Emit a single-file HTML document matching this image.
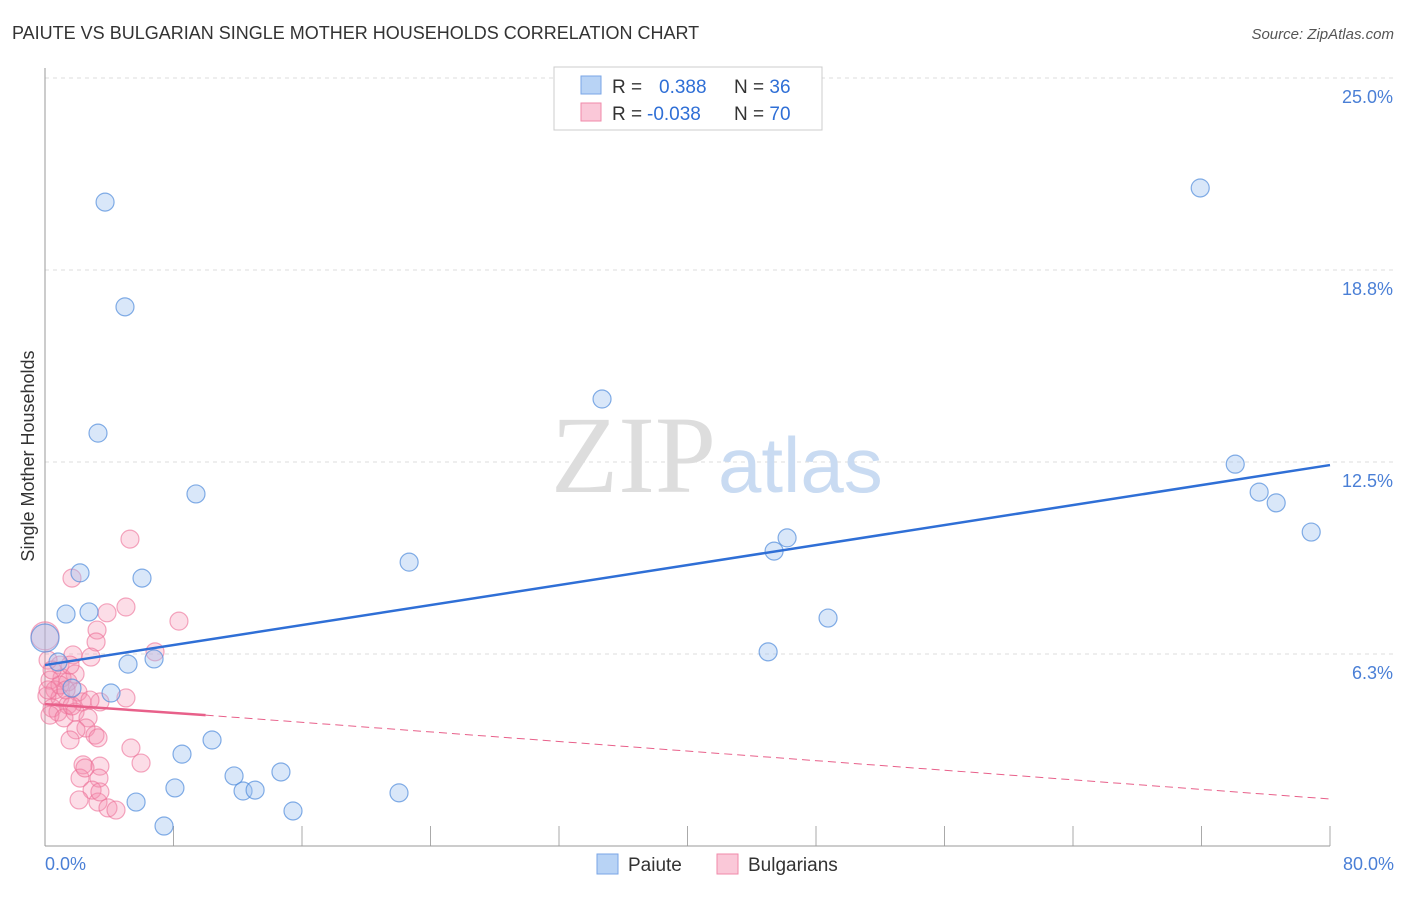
<!DOCTYPE html>
<html><head><meta charset="utf-8"><style>
body{margin:0;background:#fff;font-family:"Liberation Sans",sans-serif;}
</style></head><body>
<svg width="1406" height="892" xmlns="http://www.w3.org/2000/svg">
<text x="12" y="39" font-size="18" fill="#333">PAIUTE VS BULGARIAN SINGLE MOTHER HOUSEHOLDS CORRELATION CHART</text>
<text x="1394" y="39" font-size="15" fill="#555" font-style="italic" text-anchor="end">Source: ZipAtlas.com</text>
<g id="grid"></g>
<text x="716" y="492" font-size="110" font-family="Liberation Serif,serif" fill="#ddd" text-anchor="end">ZIP</text>
<text x="718" y="492" font-size="78" fill="#c9dbf2">atlas</text>
<line x1="45" y1="68" x2="45" y2="846" stroke="#999"/>
<line x1="45" y1="846" x2="1330" y2="846" stroke="#999"/>
<text transform="translate(34,456) rotate(-90)" font-size="18" fill="#333" text-anchor="middle">Single Mother Households</text>
<text x="45" y="870" font-size="18" fill="#4a7fd6">0.0%</text>
<text x="1394" y="870" font-size="18" fill="#4a7fd6" text-anchor="end">80.0%</text>
<g id="pts"></g>
<g id="lines"></g>
<g>
<rect x="554" y="67" width="268" height="63" fill="#fff" stroke="#ccc"/>
<rect x="581" y="76" width="20" height="18" fill="#b8d3f5" stroke="#7aa6e6"/>
<rect x="581" y="103" width="20" height="18" fill="#fac8d8" stroke="#f08aaa"/>
<text x="612" y="93" font-size="19" fill="#333">R = <tspan fill="#2f6fd6" x="659">0.388</tspan><tspan x="734" fill="#333">N = </tspan><tspan fill="#2f6fd6">36</tspan></text>
<text x="612" y="120" font-size="19" fill="#333">R = <tspan fill="#2f6fd6" x="647">-0.038</tspan><tspan x="734" fill="#333">N = </tspan><tspan fill="#2f6fd6">70</tspan></text>
</g>
<g>
<rect x="597" y="854" width="21" height="20" fill="#b8d3f5" stroke="#7aa6e6"/>
<text x="628" y="871" font-size="19" fill="#333">Paiute</text>
<rect x="717" y="854" width="21" height="20" fill="#fac8d8" stroke="#f08aaa"/>
<text x="748" y="871" font-size="19" fill="#333">Bulgarians</text>
</g>
</svg>
<script>
const yTicks=[6.25,12.5,18.75,25];
const yTickLabels=["6.3%","12.5%","18.8%","25.0%"];
const xTicks=[8,16,24,32,40,48,56,64,72,80];
const paiuteX=[3.74,4.98,3.30,9.40,2.18,6.04,1.31,2.74,5.17,6.79,4.11,0.0,0.81,8.53,10.40,8.09,11.77,12.33,13.08,14.69,5.67,7.41,15.44,22.04,22.67,34.68,45.39,46.20,48.75,45.02,71.92,74.10,75.59,76.65,78.83,1.68];
const paiuteY=[20.96,17.55,13.44,11.46,8.89,8.72,7.55,7.62,5.92,6.09,4.98,6.77,5.99,2.99,3.45,1.89,2.28,1.79,1.82,2.41,1.43,0.65,1.14,1.73,9.24,14.55,9.60,10.03,7.42,6.32,21.42,12.43,11.52,11.17,10.22,5.14];
const bulgX=[5.29,1.68,5.04,3.86,8.34,3.24,3.18,2.86,6.85,1.74,0.93,0.19,1.87,1.06,0.31,1.43,0.62,2.05,0.12,0.93,2.30,1.43,0.44,5.04,3.42,0.81,1.87,2.68,0.31,1.18,2.55,1.93,3.11,3.30,1.56,5.35,5.98,2.37,3.42,2.18,3.36,2.93,2.12,3.30,3.92,4.42,0.93,1.31,0,2.49,3.42,1.68,2.80,0.44,1.56,0.19];
const bulgY=[9.99,8.72,7.78,7.59,7.32,7.03,6.64,6.15,6.32,6.22,5.89,6.05,5.60,5.47,5.40,5.34,5.08,5.01,4.88,4.82,4.69,4.59,4.49,4.82,4.69,4.36,4.36,4.17,4.26,4.17,3.84,3.78,3.61,3.52,3.45,3.19,2.70,2.64,2.60,2.21,2.21,1.82,1.50,1.43,1.24,1.17,5.24,5.08,6.84,2.54,1.76,4.56,4.75,5.73,5.89,5.08];
const paiuteTrend=[5.89,12.4];
const bulgTrend=[4.62,4.26,1.53];
const NS="http://www.w3.org/2000/svg";
const sx=v=>45+v*1285/80, sy=v=>846-v*30.72;
const grid=document.getElementById('grid');
yTicks.forEach((t,i)=>{
 const l=document.createElementNS(NS,'line');
 l.setAttribute('x1',45);l.setAttribute('x2',1395);l.setAttribute('y1',sy(t));l.setAttribute('y2',sy(t));
 l.setAttribute('stroke','#ddd');l.setAttribute('stroke-dasharray','4,4');
 
 
 grid.appendChild(l);
 const tx=document.createElementNS(NS,'text');
 tx.setAttribute('x',1393);tx.setAttribute('y',sy(t)+25);tx.setAttribute('text-anchor','end');
 tx.setAttribute('font-size','18');tx.setAttribute('fill','#4a7fd6');tx.textContent=yTickLabels[i];
 
 
 grid.appendChild(tx);
});
xTicks.forEach(t=>{
 const l=document.createElementNS(NS,'line');
 l.setAttribute('x1',sx(t));l.setAttribute('x2',sx(t));l.setAttribute('y1',826);l.setAttribute('y2',846);
 l.setAttribute('stroke','#aaa');
 
 
 grid.appendChild(l);
});
const pts=document.getElementById('pts');
function dot(x,y,fill,stroke,name){
 const c=document.createElementNS(NS,'circle');
 c.setAttribute('cx',sx(x));c.setAttribute('cy',sy(y));
 c.setAttribute('r',(x===0)?14:9);
 c.setAttribute('fill',fill);c.setAttribute('stroke',stroke);c.setAttribute('stroke-width','1.2');
 
 
 pts.appendChild(c);
}
bulgX.forEach((x,i)=>dot(x,bulgY[i],'rgba(244,143,177,0.3)','rgba(236,110,150,0.6)','bulgarian-point'));
paiuteX.forEach((x,i)=>dot(x,paiuteY[i],'rgba(160,195,240,0.4)','rgba(80,140,220,0.7)','paiute-point'));
const lines=document.getElementById('lines');
function ln(x1,y1,x2,y2,col,w,dash,name){
 const l=document.createElementNS(NS,'line');
 l.setAttribute('x1',sx(x1));l.setAttribute('y1',sy(y1));l.setAttribute('x2',sx(x2));l.setAttribute('y2',sy(y2));
 l.setAttribute('stroke',col);l.setAttribute('stroke-width',w);
 if(dash)l.setAttribute('stroke-dasharray',dash);
 
 
 lines.appendChild(l);
}
ln(0,paiuteTrend[0],80,paiuteTrend[1],'#2f6fd6',2.5,null,'paiute-trendline');
ln(0,bulgTrend[0],10,bulgTrend[1],'#e8608a',2.5,null,'bulgarian-trendline');
ln(10,bulgTrend[1],80,bulgTrend[2],'#e8608a',1,'8,5','bulgarian-trendline-extension');
</script>
</body></html>
